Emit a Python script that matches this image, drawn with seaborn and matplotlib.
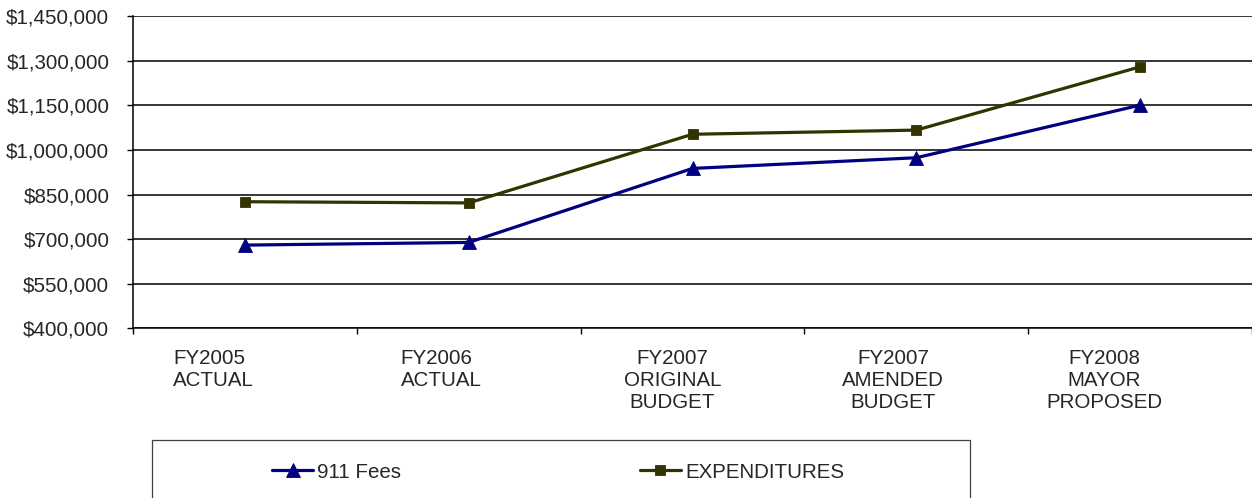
"""911 fees vs expenditures line chart."""

import matplotlib

matplotlib.use("Agg")

import matplotlib.pyplot as plt
import numpy as np
import pandas as pd
import seaborn as sns
from matplotlib.patches import Rectangle
from matplotlib.ticker import FixedLocator, FuncFormatter
from matplotlib.transforms import ScaledTranslation

categories = [
    "FY2005\nACTUAL",
    "FY2006\nACTUAL",
    "FY2007\nORIGINAL\nBUDGET",
    "FY2007\nAMENDED\nBUDGET",
    "FY2008\nMAYOR\nPROPOSED",
]
fees_911 = [680000, 689000, 938000, 974000, 1151000]
expenditures = [826000, 822000, 1053000, 1067000, 1280000]
series_names = ["911 Fees", "EXPENDITURES"]
series_colors = ["#000080", "#333300"]
y_ticks = [400000, 550000, 700000, 850000, 1000000, 1150000, 1300000, 1450000]

# the original labels sit a bit off-center (padded text in the source sheet)
label_align = ["left", "left", "center", "center", "center"]
label_shift_px = [-72, -68, -20, -23, -36]

df = pd.DataFrame({
    "pos": list(range(len(categories))) * 2,
    "value": fees_911 + expenditures,
    "series": [series_names[0]] * len(categories) + [series_names[1]] * len(categories),
})

sns.set_theme(style="white")
plt.rcParams["font.family"] = ["Liberation Sans", "DejaVu Sans"]
FS = 14.8

fig = plt.figure(figsize=(12.52, 4.98), dpi=100)
ax = fig.add_axes([133 / 1252, 1 - 328.3 / 498, 1 - 133 / 1252, (328.3 - 16.3) / 498])

palette = dict(zip(series_names, series_colors))
for name, marker, ms in zip(series_names, ["^", "s"], [10, 7.5]):
    sns.lineplot(
        data=df[df["series"] == name], x="pos", y="value", ax=ax,
        color=palette[name], marker=marker, markersize=ms, markeredgewidth=0.6,
        markeredgecolor=palette[name], linewidth=2.3, label=name, legend=False,
    )

ax.set_ylim(y_ticks[0], y_ticks[-1])
ax.set_xlim(-0.5, len(categories) - 0.5)
ax.yaxis.set_major_locator(FixedLocator(y_ticks))
ax.yaxis.set_major_formatter(FuncFormatter(lambda v, _: f"${v:,.0f}"))
ax.grid(axis="y", color="black", linewidth=1.1)
ax.set_axisbelow(True)

# category boundaries get the tick marks, centers get the labels
ax.set_xticks(np.arange(len(categories) + 1) - 0.5)
ax.set_xticklabels([])
ax.set_xticks(np.arange(len(categories)), minor=True)
ax.set_xticklabels(categories, minor=True, fontsize=FS)
ax.tick_params(axis="x", which="major", direction="out", length=4.5, width=1, color="black", bottom=True)
ax.tick_params(axis="x", which="minor", length=0, pad=15)
ax.tick_params(axis="y", direction="out", length=4, width=1, color="black", left=True,
               labelsize=FS, pad=13)
ax.set_xlabel("")
ax.set_ylabel("")

for tick, ha, dx in zip(ax.xaxis.get_minor_ticks(), label_align, label_shift_px):
    lab = tick.label1
    lab.set_horizontalalignment(ha)
    lab.set_multialignment(ha)
    lab.set_transform(lab.get_transform() + ScaledTranslation(dx / 100, 0, fig.dpi_scale_trans))

for side in ["top", "right"]:
    ax.spines[side].set_visible(False)
for side in ["left", "bottom"]:
    ax.spines[side].set_color("black")
    ax.spines[side].set_linewidth(1.1)

# legend box running off the bottom edge
fig.patches.append(Rectangle(
    (152 / 1252, -0.2), (970 - 152) / 1252, 0.2 + 1 - 440 / 498,
    transform=fig.transFigure, fill=False, edgecolor="#404040", linewidth=0.9,
))
handles, labels = ax.get_legend_handles_labels()
fig.legend(
    handles, labels, ncol=2, loc="center left",
    bbox_to_anchor=(272 / 1252, 1 - 472 / 498), frameon=False,
    fontsize=FS, handlelength=2.0, handletextpad=0.2, columnspacing=11.6,
    borderpad=0, borderaxespad=0,
)

fig.savefig("out.png", dpi=100)
plt.close(fig)
